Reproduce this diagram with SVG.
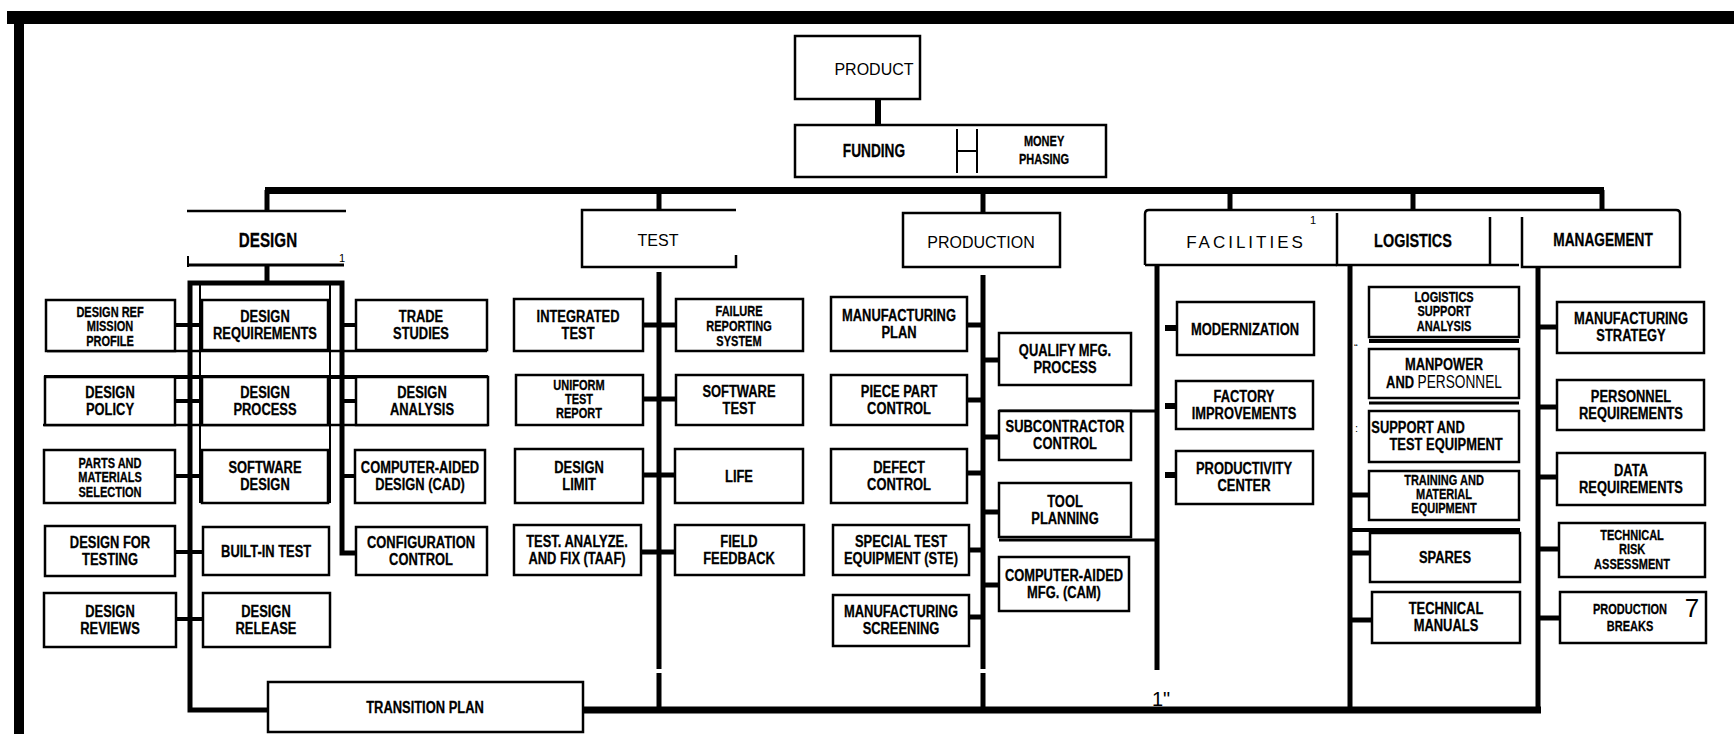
<svg xmlns="http://www.w3.org/2000/svg" width="1734" height="734" viewBox="0 0 1734 734">
<style>
.bx{fill:#fff;stroke:#000;stroke-width:2.5}
.ln{stroke:#000;stroke-width:2.5;fill:none}
.tk{stroke:#000;stroke-width:5;fill:none}
.bus{stroke:#000;stroke-width:7;fill:none}
.lb{font-family:"Liberation Sans",Arial,sans-serif;font-weight:bold;font-size:17px;text-anchor:middle;fill:#000;stroke:#000;stroke-width:0.3;transform-box:fill-box;transform-origin:center;transform:scaleX(0.76)}
.s3{font-size:14.5px}
.rg{font-family:"Liberation Sans",Arial,sans-serif;font-size:16px;text-anchor:middle;fill:#000}
.nz{font-family:"Liberation Sans",Arial,sans-serif;font-size:11px;fill:#000}
</style>
<rect width="1734" height="734" fill="#fff"/>
<!-- frame bars -->
<rect x="7" y="11" width="1727" height="13" fill="#000"/>
<rect x="14" y="11" width="10" height="723" fill="#000"/>

<g id="connectors">
  <line class="tk" x1="878" y1="99" x2="878" y2="125" style="stroke-width:6"/>
  <path class="bus" d="M265,190.5 H1604"/>
  <line class="tk" x1="267" y1="190" x2="267" y2="211"/>
  <line class="tk" x1="659" y1="194" x2="659" y2="210"/>
  <line class="tk" x1="983" y1="194" x2="983" y2="213"/>
  <line class="tk" x1="1230" y1="194" x2="1230" y2="210"/>
  <line class="tk" x1="1413" y1="194" x2="1413" y2="210"/>
  <line class="tk" x1="1602" y1="190" x2="1602" y2="210"/>
  <!-- design frame -->
  <line class="tk" x1="267" y1="265" x2="267" y2="283"/>
  <path class="tk" d="M268,710 H190 V283 H342 V553 H356"/>
  <line class="ln" x1="200" y1="285" x2="200" y2="503" style="stroke-width:2"/>
  <line class="ln" x1="330" y1="285" x2="330" y2="503" style="stroke-width:2"/>
  <line class="ln" x1="47" y1="351" x2="487" y2="351"/>
  <line class="ln" x1="44" y1="377" x2="488" y2="377" style="stroke-width:4"/>
  <line class="ln" x1="43" y1="425" x2="488" y2="425"/>
  <g class="tk" style="stroke-width:4">
    <line x1="175" y1="325" x2="202" y2="325"/>
    <line x1="175" y1="401" x2="202" y2="401"/>
    <line x1="175" y1="476" x2="202" y2="476"/>
    <line x1="175" y1="552" x2="202" y2="552"/>
    <line x1="175" y1="619" x2="202" y2="619"/>
    <line x1="342" y1="325" x2="356" y2="325"/>
    <line x1="342" y1="401" x2="356" y2="401"/>
    <line x1="342" y1="476" x2="356" y2="476"/>
  </g>
  <!-- test -->
  <path class="tk" d="M659,272 V669 M659,673 V710"/>
  <g class="tk">
    <line x1="643" y1="325" x2="676" y2="325"/>
    <line x1="643" y1="399" x2="676" y2="399"/>
    <line x1="643" y1="475" x2="676" y2="475"/>
    <line x1="641" y1="552" x2="676" y2="552"/>
  </g>
  <!-- production -->
  <path class="tk" d="M983,275 V669 M983,673 V710"/>
  <g class="tk">
    <line x1="967" y1="325" x2="983" y2="325"/>
    <line x1="967" y1="400" x2="983" y2="400"/>
    <line x1="967" y1="473" x2="983" y2="473"/>
    <line x1="969" y1="550" x2="983" y2="550"/>
    <line x1="969" y1="617" x2="983" y2="617"/>
    <line x1="983" y1="360" x2="999" y2="360"/>
    <line x1="983" y1="437" x2="999" y2="437"/>
    <line x1="983" y1="512" x2="999" y2="512"/>
    <line x1="983" y1="585" x2="999" y2="585"/>
  </g>
  <line class="ln" x1="999" y1="411" x2="1157" y2="411" style="stroke-width:3"/>
  <line class="ln" x1="999" y1="540" x2="1157" y2="540" style="stroke-width:3"/>
  <!-- facilities -->
  <line class="tk" x1="1157" y1="265" x2="1157" y2="670"/>
  <g class="tk" style="stroke-width:6">
    <line x1="1165" y1="328" x2="1177" y2="328"/>
    <line x1="1165" y1="406" x2="1177" y2="406"/>
    <line x1="1165" y1="475" x2="1177" y2="475"/>
  </g>
  <!-- logistics -->
  <line class="tk" x1="1350" y1="265" x2="1350" y2="712"/>
  <line class="ln" x1="1369" y1="341" x2="1519" y2="341" style="stroke-width:4"/>
  <line class="ln" x1="1369" y1="403" x2="1519" y2="403" style="stroke-width:3"/>
  <line class="ln" x1="1352" y1="530" x2="1520" y2="530" style="stroke-width:4"/>
  <g class="tk">
    <line x1="1350" y1="495" x2="1369" y2="495"/>
    <line x1="1350" y1="553" x2="1370" y2="553"/>
    <line x1="1350" y1="620" x2="1372" y2="620"/>
  </g>
  <!-- management -->
  <line class="tk" x1="1538" y1="267" x2="1538" y2="712"/>
  <g class="tk">
    <line x1="1538" y1="327" x2="1557" y2="327"/>
    <line x1="1538" y1="407" x2="1557" y2="407"/>
    <line x1="1538" y1="477" x2="1557" y2="477"/>
    <line x1="1538" y1="549" x2="1559" y2="549"/>
    <line x1="1538" y1="618" x2="1560" y2="618"/>
  </g>
  <path class="bus" d="M583,710 H1541"/>
</g>

<g id="product"><rect class="bx" x="795" y="36" width="125" height="63"/><text class="rg" x="874" y="75">PRODUCT</text></g>
<g id="funding">
  <rect class="bx" x="795" y="125" width="311" height="52"/>
  <text class="lb" x="874" y="157" style="font-size:18px">FUNDING</text>
  <path class="ln" d="M957,129 V173 M977,129 V173 M957,151 H977" style="stroke-width:2"/>
  <text class="lb s3" x="1044" y="146">MONEY</text>
  <text class="lb s3" x="1044" y="164">PHASING</text>
</g>

<g id="design">
  <line class="ln" x1="187" y1="211" x2="346" y2="211"/>
  <line class="ln" x1="187" y1="265" x2="344" y2="265" style="stroke-width:3"/>
  <line class="ln" x1="188" y1="256" x2="188" y2="267" style="stroke-width:2"/>
  <text class="lb" x="268" y="247" style="font-size:20px">DESIGN</text>
  <text class="nz" x="339" y="262">1</text>
</g>
<g id="test"><path class="ln" d="M736,210 H582 V267 H736 V255"/><text class="rg" x="658" y="246">TEST</text></g>
<g id="production"><rect class="bx" x="903" y="213" width="157" height="54"/><text class="rg" x="981" y="248">PRODUCTION</text></g>
<g id="facilities">
  <path class="ln" d="M1145,265 V214 Q1145,210 1149,210 H1337"/>
  <line class="ln" x1="1145" y1="265" x2="1337" y2="265"/>
  <text class="rg" x="1246" y="248" style="font-size:17px;letter-spacing:3px">FACILITIES</text>
  <text class="nz" x="1310" y="224">1</text>
</g>
<g id="logistics">
  <path class="ln" d="M1337,210 H1490 M1337,213 V265 H1519 M1490,217 V265"/>
  <text class="lb" x="1413" y="247" style="font-size:19px">LOGISTICS</text>
</g>
<g id="management">
  <path class="ln" d="M1490,210 H1676 Q1680,210 1680,214 V267 H1522 V217"/>
  <text class="lb" x="1603" y="246" style="font-size:18px">MANAGEMENT</text>
</g>

<!-- design children -->
<g id="design-ref"><rect class="bx" x="46" y="300" width="129" height="51"/><text class="lb s3" x="110" y="317">DESIGN REF</text><text class="lb s3" x="110" y="331">MISSION</text><text class="lb s3" x="110" y="346">PROFILE</text></g>
<g id="design-policy"><rect class="bx" x="45" y="377" width="130" height="48"/><text class="lb" x="110" y="398">DESIGN</text><text class="lb" x="110" y="415">POLICY</text></g>
<g id="parts"><rect class="bx" x="44" y="450" width="131" height="53"/><text class="lb s3" x="110" y="468">PARTS AND</text><text class="lb s3" x="110" y="482">MATERIALS</text><text class="lb s3" x="110" y="497">SELECTION</text></g>
<g id="design-testing"><rect class="bx" x="45" y="526" width="130" height="50"/><text class="lb" x="110" y="548">DESIGN FOR</text><text class="lb" x="110" y="565">TESTING</text></g>
<g id="design-reviews"><rect class="bx" x="44" y="593" width="132" height="54"/><text class="lb" x="110" y="617">DESIGN</text><text class="lb" x="110" y="634">REVIEWS</text></g>

<g id="design-req"><rect class="bx" x="202" y="300" width="126" height="50"/><text class="lb" x="265" y="322">DESIGN</text><text class="lb" x="265" y="339">REQUIREMENTS</text></g>
<g id="design-process"><rect class="bx" x="202" y="377" width="126" height="48"/><text class="lb" x="265" y="398">DESIGN</text><text class="lb" x="265" y="415">PROCESS</text></g>
<g id="software-design"><rect class="bx" x="202" y="450" width="126" height="53"/><text class="lb" x="265" y="473">SOFTWARE</text><text class="lb" x="265" y="490">DESIGN</text></g>
<g id="bit"><rect class="bx" x="203" y="527" width="126" height="48"/><text class="lb" x="266" y="557">BUILT-IN TEST</text></g>
<g id="design-release"><rect class="bx" x="203" y="593" width="127" height="54"/><text class="lb" x="266" y="617">DESIGN</text><text class="lb" x="266" y="634">RELEASE</text></g>

<g id="trade"><rect class="bx" x="356" y="300" width="131" height="50"/><text class="lb" x="421" y="322">TRADE</text><text class="lb" x="421" y="339">STUDIES</text></g>
<g id="design-analysis"><rect class="bx" x="356" y="377" width="132" height="48"/><text class="lb" x="422" y="398">DESIGN</text><text class="lb" x="422" y="415">ANALYSIS</text></g>
<g id="cad"><rect class="bx" x="355" y="450" width="130" height="53"/><text class="lb" x="420" y="473">COMPUTER-AIDED</text><text class="lb" x="420" y="490">DESIGN (CAD)</text></g>
<g id="config"><rect class="bx" x="356" y="527" width="131" height="48"/><text class="lb" x="421" y="548">CONFIGURATION</text><text class="lb" x="421" y="565">CONTROL</text></g>

<g id="transition"><rect class="bx" x="268" y="682" width="315" height="50"/><text class="lb" x="425" y="713">TRANSITION PLAN</text></g>

<!-- test children -->
<g id="integrated"><rect class="bx" x="514" y="299" width="129" height="52"/><text class="lb" x="578" y="322">INTEGRATED</text><text class="lb" x="578" y="339">TEST</text></g>
<g id="uniform"><rect class="bx" x="516" y="375" width="127" height="50"/><text class="lb s3" x="579" y="390">UNIFORM</text><text class="lb s3" x="579" y="404">TEST</text><text class="lb s3" x="579" y="418">REPORT</text></g>
<g id="design-limit"><rect class="bx" x="515" y="449" width="128" height="54"/><text class="lb" x="579" y="473">DESIGN</text><text class="lb" x="579" y="490">LIMIT</text></g>
<g id="taaf"><rect class="bx" x="514" y="525" width="127" height="50"/><text class="lb" x="577" y="547">TEST. ANALYZE.</text><text class="lb" x="577" y="564">AND FIX (TAAF)</text></g>
<g id="failure"><rect class="bx" x="676" y="299" width="127" height="52"/><text class="lb s3" x="739" y="316">FAILURE</text><text class="lb s3" x="739" y="331">REPORTING</text><text class="lb s3" x="739" y="346">SYSTEM</text></g>
<g id="software-test"><rect class="bx" x="676" y="375" width="127" height="50"/><text class="lb" x="739" y="397">SOFTWARE</text><text class="lb" x="739" y="414">TEST</text></g>
<g id="life"><rect class="bx" x="675" y="449" width="128" height="54"/><text class="lb" x="739" y="482">LIFE</text></g>
<g id="field"><rect class="bx" x="675" y="525" width="129" height="50"/><text class="lb" x="739" y="547">FIELD</text><text class="lb" x="739" y="564">FEEDBACK</text></g>

<!-- production children -->
<g id="mfg-plan"><rect class="bx" x="831" y="297" width="136" height="54"/><text class="lb" x="899" y="321">MANUFACTURING</text><text class="lb" x="899" y="338">PLAN</text></g>
<g id="piece-part"><rect class="bx" x="831" y="375" width="136" height="50"/><text class="lb" x="899" y="397">PIECE PART</text><text class="lb" x="899" y="414">CONTROL</text></g>
<g id="defect"><rect class="bx" x="831" y="449" width="136" height="54"/><text class="lb" x="899" y="473">DEFECT</text><text class="lb" x="899" y="490">CONTROL</text></g>
<g id="ste"><rect class="bx" x="833" y="525" width="136" height="50"/><text class="lb" x="901" y="547">SPECIAL TEST</text><text class="lb" x="901" y="564">EQUIPMENT (STE)</text></g>
<g id="mfg-screen"><rect class="bx" x="833" y="595" width="136" height="51"/><text class="lb" x="901" y="617">MANUFACTURING</text><text class="lb" x="901" y="634">SCREENING</text></g>
<g id="qualify"><rect class="bx" x="999" y="333" width="132" height="52"/><text class="lb" x="1065" y="356">QUALIFY MFG.</text><text class="lb" x="1065" y="373">PROCESS</text></g>
<g id="subcontractor"><rect class="bx" x="999" y="411" width="132" height="49"/><text class="lb" x="1065" y="432">SUBCONTRACTOR</text><text class="lb" x="1065" y="449">CONTROL</text></g>
<g id="tool"><rect class="bx" x="999" y="483" width="132" height="54"/><text class="lb" x="1065" y="507">TOOL</text><text class="lb" x="1065" y="524">PLANNING</text></g>
<g id="cam"><rect class="bx" x="999" y="557" width="130" height="54"/><text class="lb" x="1064" y="581">COMPUTER-AIDED</text><text class="lb" x="1064" y="598">MFG. (CAM)</text></g>

<!-- facilities children -->
<g id="modernization"><rect class="bx" x="1177" y="302" width="137" height="53"/><text class="lb" x="1245" y="335">MODERNIZATION</text></g>
<g id="factory"><rect class="bx" x="1176" y="381" width="137" height="48"/><text class="lb" x="1244" y="402">FACTORY</text><text class="lb" x="1244" y="419">IMPROVEMENTS</text></g>
<g id="productivity"><rect class="bx" x="1176" y="451" width="137" height="53"/><text class="lb" x="1244" y="474">PRODUCTIVITY</text><text class="lb" x="1244" y="491">CENTER</text></g>
<text class="nz" x="1152" y="706" style="font-size:20px">1"</text>

<!-- logistics children -->
<g id="lsa"><rect class="bx" x="1369" y="287" width="150" height="50"/><text class="lb s3" x="1444" y="302">LOGISTICS</text><text class="lb s3" x="1444" y="316">SUPPORT</text><text class="lb s3" x="1444" y="331">ANALYSIS</text></g>
<g id="manpower"><rect class="bx" x="1369" y="349" width="150" height="49"/><text class="lb" x="1444" y="370">MANPOWER</text><text class="lb" x="1444" y="388">AND <tspan style="font-weight:normal;stroke-width:0;font-size:18px">PERSONNEL</tspan></text></g>
<g id="ste-log"><rect class="bx" x="1369" y="411" width="150" height="51"/><text class="lb" x="1418" y="433">SUPPORT AND</text><text class="lb" x="1446" y="450">TEST EQUIPMENT</text></g>
<g id="training"><rect class="bx" x="1369" y="471" width="150" height="49"/><text class="lb s3" x="1444" y="485">TRAINING AND</text><text class="lb s3" x="1444" y="499">MATERIAL</text><text class="lb s3" x="1444" y="513">EQUIPMENT</text></g>
<g id="spares"><rect class="bx" x="1370" y="533" width="150" height="49"/><text class="lb" x="1445" y="563">SPARES</text></g>
<g id="manuals"><rect class="bx" x="1372" y="592" width="148" height="51"/><text class="lb" x="1446" y="614">TECHNICAL</text><text class="lb" x="1446" y="631">MANUALS</text></g>
<text class="nz" x="1354" y="352">“</text>
<text class="nz" x="1355" y="432">:</text>

<!-- management children -->
<g id="mfg-strategy"><rect class="bx" x="1557" y="302" width="147" height="51"/><text class="lb" x="1631" y="324">MANUFACTURING</text><text class="lb" x="1631" y="341">STRATEGY</text></g>
<g id="personnel-req"><rect class="bx" x="1557" y="380" width="147" height="50"/><text class="lb" x="1631" y="402">PERSONNEL</text><text class="lb" x="1631" y="419">REQUIREMENTS</text></g>
<g id="data-req"><rect class="bx" x="1557" y="453" width="148" height="52"/><text class="lb" x="1631" y="476">DATA</text><text class="lb" x="1631" y="493">REQUIREMENTS</text></g>
<g id="risk"><rect class="bx" x="1559" y="523" width="146" height="54"/><text class="lb s3" x="1632" y="540">TECHNICAL</text><text class="lb s3" x="1632" y="554">RISK</text><text class="lb s3" x="1632" y="569">ASSESSMENT</text></g>
<g id="breaks"><rect class="bx" x="1560" y="592" width="146" height="51"/><text class="lb s3" x="1630" y="614">PRODUCTION</text><text class="lb s3" x="1630" y="631">BREAKS</text><text class="rg" x="1692" y="617" style="font-size:26px">7</text></g>
</svg>
